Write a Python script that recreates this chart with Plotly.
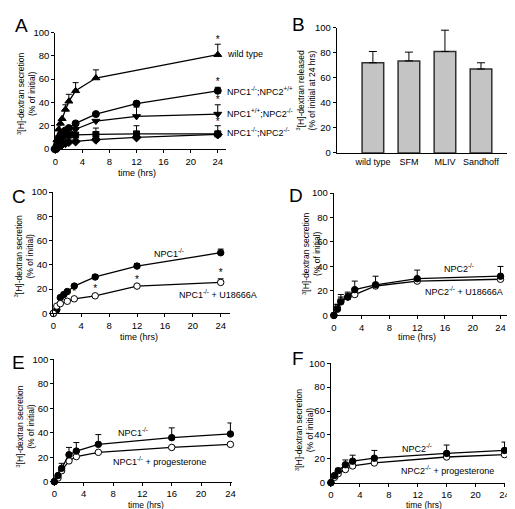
import plotly.graph_objects as go

W, H = 515, 509
FONT = "Liberation Sans, Arial, sans-serif"

# ---------------- Data ----------------
# Panel A
a_time = [0, 0.25, 0.5, 0.75, 1, 1.5, 2, 3, 6, 12, 24]
a_wt_time = [0, 0.25, 0.5, 0.75, 1, 1.5, 2, 3, 6, 24]
a_wt = [0, 8, 17, 22, 26, 34, 41, 50, 61, 81]
a_wt_err = [0, 0, 0, 0, 0, 4, 6, 7, 7, 9]
a_npc1 = [0, 3, 8, 12, 14, 16, 18, 22, 30, 39, 50]
a_npc1_err = [0, 0, 0, 0, 0, 0, 0, 1, 1, 2, 3]
a_npc2 = [0, 2, 5, 8, 10, 12, 13, 17, 24, 28, 30]
a_npc2_err = [0, 0, 0, 0, 0, 0, 0, 0, 0, 8, 8]
a_dko = [0, 5, 9, 11, 12, 12, 12, 12, 12.5, 13, 13]
a_dko_err = [0, 0, 0, 0, 0, 0, 0, 0, 5.5, 7, 7]
a_other = [0, 1, 2, 3, 4, 5, 6, 6.5, 8, 10, 12.5]
a_star_y = [93, 57, 42, 23]

# Panel B
b_cats = ["wild type", "SFM", "MLIV", "Sandhoff"]
b_vals = [72, 73.5, 81, 67]
b_err = [9, 7, 17, 5]

# Panel C
c_time = [0, 0.5, 1, 1.5, 2, 3, 6, 12, 24]
c_npc1 = [0, 3, 13, 15.5, 18, 22.5, 30, 39, 50]
c_npc1_err = [0, 0, 0, 0, 0, 1, 2, 2, 3]
c_u_time = [0, 0.5, 1, 2, 3, 6, 12, 24]
c_u = [0, 6, 8, 10, 12, 14.5, 22.5, 25.5]
c_u_err = [0, 0, 0, 0, 0, 0, 0, 3]
c_star_x = [2, 3, 6, 12, 24]
c_star_y = [15, 17, 20, 27.5, 33]

# Panel D
d_time = [0, 0.5, 1, 2, 3, 6, 12, 24]
d_npc2 = [0, 5, 11, 15, 21, 25, 30, 32]
d_npc2_err = [0, 4, 6, 4, 7, 7, 7, 8]
d_u = [0, 6, 12, 15, 17, 24, 28, 29.5]
d_u_err = [0, 3, 3, 3, 0, 0, 0, 0]

# Panel E
e_time = [0, 0.5, 1, 2, 3, 6, 16, 24]
e_npc1 = [0, 5, 11, 22, 25, 30.5, 36, 39]
e_npc1_err = [0, 0, 4, 6, 7, 8, 8, 9]
e_prog = [0, 3, 9, 17, 20.5, 24, 28, 30.5]

# Panel F
f_time = [0, 0.5, 1, 2, 3, 6, 16, 24]
f_npc2 = [0, 6, 10, 15, 18, 20.5, 24.5, 27]
f_npc2_err = [0, 0, 2, 4, 5, 6.5, 7, 7]
f_prog = [0, 4.5, 7.5, 11, 14, 16.5, 21.5, 23.5]


# ---------------- Helpers ----------------
def xd(a, b):
    return [a / W, b / W]


def yd(bottom, top):
    return [1 - bottom / H, 1 - top / H]


def px(x):
    return x / W


def py(y):
    return 1 - y / H


fig = go.Figure()

# panel geometry: (x-domain px, y-domain px (bottom, top), xrange)
panels = {
    "A": dict(xdom=(45, 218), ydom=(138, 19), xr=[0, 25.16]),
    "C": dict(xdom=(43, 222), ydom=(306, 182), xr=[0, 25.27]),
    "D": dict(xdom=(328, 505), ydom=(308, 183), xr=[0, 25.1]),
    "E": dict(xdom=(44, 224), ydom=(478, 353), xr=[0, 24.15]),
    "F": dict(xdom=(325, 502), ydom=(479, 357), xr=[0, 24.1]),
}
axis_ids = {"A": "", "B": "2", "C": "3", "D": "4", "E": "5", "F": "6"}


def add_line(panel, x, y, err=None, filled=True, symbol="circle", size=6.5):
    k = axis_ids[panel]
    ey = None
    if err is not None:
        ey = dict(type="data", symmetric=False, array=err,
                  arrayminus=[0] * len(err), color="black", thickness=1, width=3)
    fig.add_trace(go.Scatter(
        x=x, y=y, mode="lines+markers",
        xaxis="x" + k, yaxis="y" + k,
        line=dict(color="black", width=1.3),
        marker=dict(symbol=symbol, size=size,
                    color="black" if filled else "white",
                    line=dict(color="black", width=1)),
        error_y=ey, cliponaxis=False, showlegend=False, hoverinfo="skip"))


def add_stars(panel, x, y):
    k = axis_ids[panel]
    fig.add_trace(go.Scatter(
        x=x, y=y, mode="text", text=["*"] * len(x),
        xaxis="x" + k, yaxis="y" + k,
        textfont=dict(family=FONT, size=10, color="black"),
        cliponaxis=False, showlegend=False, hoverinfo="skip"))


# Panel A traces
add_line("A", a_time, a_other, None, True, "diamond", 7)
add_line("A", a_time, a_dko, a_dko_err, True, "square", 6)
add_line("A", a_time, a_npc2, a_npc2_err, True, "triangle-down", 7)
add_line("A", a_time, a_npc1, a_npc1_err, True, "circle", 7)
add_line("A", a_wt_time, a_wt, a_wt_err, True, "triangle-up", 7)
add_stars("A", [24] * len(a_star_y), a_star_y)

# Panel B
fig.add_trace(go.Bar(
    x=b_cats, y=b_vals, xaxis="x2", yaxis="y2", width=0.6,
    marker=dict(color="#c4c4c4", line=dict(color="#303030", width=1.5)),
    error_y=dict(type="data", symmetric=False, array=b_err,
                 arrayminus=[0] * len(b_err), color="black", thickness=1, width=4),
    showlegend=False, hoverinfo="skip"))

# Panel C
add_line("C", c_time, c_npc1, c_npc1_err, True)
add_line("C", c_u_time, c_u, c_u_err, False)
add_stars("C", c_star_x, c_star_y)

# Panel D
add_line("D", d_time, d_u, d_u_err, False)
add_line("D", d_time, d_npc2, d_npc2_err, True)

# Panel E
add_line("E", e_time, e_prog, None, False)
add_line("E", e_time, e_npc1, e_npc1_err, True)

# Panel F
add_line("F", f_time, f_prog, None, False)
add_line("F", f_time, f_npc2, f_npc2_err, True)

# ---------------- Axes ----------------
tickfont = dict(family=FONT, size=9.5, color="black")
common_ax = dict(showgrid=False, zeroline=False, showline=True, linecolor="black",
                 linewidth=1.2, ticks="outside", ticklen=3, tickcolor="black",
                 tickwidth=1, tickfont=tickfont, fixedrange=True,
                 ticklabeloverflow="allow")

layout = dict(
    width=W, height=H, margin=dict(l=0, r=0, t=0, b=0),
    paper_bgcolor="white", plot_bgcolor="rgba(0,0,0,0)",
    font=dict(family=FONT, color="black"), showlegend=False,
)

for name, p in panels.items():
    k = axis_ids[name]
    layout["xaxis" + k] = dict(common_ax, domain=xd(*p["xdom"]), range=p["xr"],
                               tickvals=[0, 4, 8, 12, 16, 20, 24],
                               anchor="y" + k)
    layout["yaxis" + k] = dict(common_ax, domain=yd(*p["ydom"]), range=[0, 100],
                               tickvals=[0, 20, 40, 60, 80, 100],
                               anchor="x" + k)

layout["xaxis2"] = dict(common_ax, domain=xd(331, 514), range=[-1, 4],
                        ticks="", ticklen=0, anchor="y2", type="category",
                        tickfont=dict(family=FONT, size=9, color="black"))
layout["yaxis2"] = dict(common_ax, domain=yd(142, 14), range=[0, 100],
                        tickvals=[0, 20, 40, 60, 80, 100], anchor="x2")
layout["bargap"] = 0.4

fig.update_layout(**layout)

# ---------------- Text ----------------
ann = []


def text(x, y, s, size=9.5, xanchor="center", yanchor="middle", angle=0):
    ann.append(dict(x=px(x), y=py(y), xref="paper", yref="paper", text=s,
                    showarrow=False, xanchor=xanchor, yanchor=yanchor,
                    textangle=angle, font=dict(family=FONT, size=size, color="black")))


# panel letters
for letter, (x, y) in {"A": (11, 12), "B": (292, 11), "C": (8, 187),
                       "D": (290, 186), "E": (8, 356), "F": (292, 352)}.items():
    text(x, y, letter, size=19)

ytitle = "<sup>3</sup>[H]-dextran secretion<br>(% of initial)"
text(16, 82, ytitle, size=8.5, angle=-90)
text(13, 248, ytitle, size=8.5, angle=-90)
text(305, 245, ytitle, size=8.5, angle=-90)
text(15, 422, ytitle, size=8.5, angle=-90)
text(298, 425, ytitle, size=8.5, angle=-90)
text(300, 78, "<sup>3</sup>[H]-dextran released<br>(% of initial at 24 hrs)",
     size=8.5, angle=-90)

for x, y, s in [(128, 163, 9), (130, 330, 9), (412, 330, 9),
                (137, 501.5, 8.5), (420, 501.5, 8.5)]:
    text(x, y, "time (hrs)", size=s)

# Panel A labels
text(217, 41, "wild type", size=9, xanchor="left")
text(217, 79, "NPC1<sup>-/-</sup>;NPC2<sup>+/+</sup>", size=9, xanchor="left")
text(217, 101, "NPC1<sup>+/+</sup>;NPC2<sup>-/-</sup>", size=9, xanchor="left")
text(217, 121, "NPC1<sup>-/-</sup>;NPC2<sup>-/-</sup>", size=9, xanchor="left")

# Panel C labels
text(161, 244, "NPC1<sup>-/-</sup>", size=9)
text(210, 286, "NPC1<sup>-/-</sup> + U18666A", size=9)

# Panel D labels
text(455, 260, "NPC2<sup>-/-</sup>", size=9)
text(460, 283, "NPC2<sup>-/-</sup> + U18666A", size=9)

# Panel E labels
text(124, 427, "NPC1<sup>-/-</sup>", size=9)
text(151, 457, "NPC1<sup>-/-</sup> + progesterone", size=9)

# Panel F labels
text(412, 444, "NPC2<sup>-/-</sup>", size=9)
text(443, 466, "NPC2<sup>-/-</sup> + progesterone", size=9)

fig.update_layout(annotations=ann)

fig.write_html("out.html")
